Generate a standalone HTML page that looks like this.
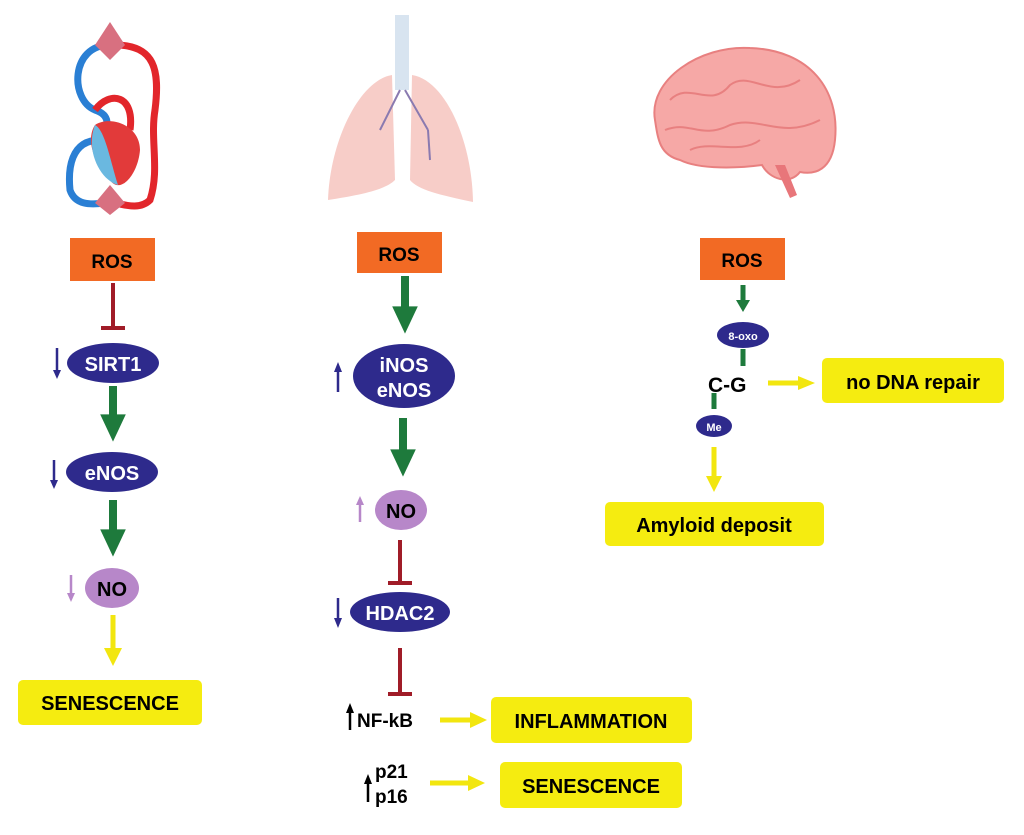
<!DOCTYPE html>
<html><head><meta charset="utf-8"><style>
body{margin:0;background:#fff;}
svg{display:block;font-family:"Liberation Sans",Arial,sans-serif;font-weight:bold;}
</style></head><body>
<svg width="1024" height="835" viewBox="0 0 1024 835" xmlns="http://www.w3.org/2000/svg">
<defs>
<marker id="g" markerWidth="4" markerHeight="4" refX="2" refY="2" orient="auto" markerUnits="strokeWidth"><path d="M0.3,0.4 L3.7,2 L0.3,3.6 z" fill="#1e7a3c"/></marker>
</defs>
<!-- heart -->
<g fill="none" stroke-width="7">
<path d="M110,45 C70,45 70,100 95,110 C110,115 110,125 100,140 C70,140 68,170 70,190 C75,205 90,205 105,203" stroke="#2a7fd4"/>
<path d="M115,45 C155,45 160,70 155,110 C150,140 160,170 150,200 C140,210 125,205 115,203" stroke="#e2262b"/>
<path d="M95,110 C110,90 135,95 130,130" stroke="#e2262b"/>
</g>
<path d="M95,45 L110,22 L125,45 L110,60 z" fill="#d87080"/>
<path d="M95,203 L110,185 L125,203 L110,215 z" fill="#d87080"/>
<path d="M95,125 C110,115 140,125 140,150 C138,175 120,195 110,180 C95,165 85,140 95,125z" fill="#e23a3a"/>
<path d="M95,125 C105,130 110,160 118,185 C100,180 85,150 95,125z" fill="#6ab8e0"/>
<!-- lungs -->
<rect x="395" y="15" width="14" height="75" fill="#d8e4f0"/>
<path d="M392,75 C360,80 330,140 328,200 C360,195 385,190 395,180 Z" fill="#f7cdc8"/>
<path d="M412,75 C445,80 472,140 473,202 C440,195 418,190 410,180 Z" fill="#f7cdc8"/>
<path d="M400,90 L380,130 M405,90 L428,130 M428,130 L430,160" stroke="#8a7ab0" stroke-width="2" fill="none"/>
<!-- brain -->
<path d="M655,120 C648,80 700,45 750,48 C810,50 840,90 835,140 C832,170 815,175 800,172 C790,185 770,180 762,165 C740,168 700,170 680,160 C660,155 658,140 655,120z" fill="#f6a8a6" stroke="#e88080" stroke-width="2"/>
<path d="M775,165 L790,198 L797,195 L785,165z" fill="#e8767a"/>
<g stroke="#e88080" stroke-width="2" fill="none"><path d="M670,100 C690,80 710,110 730,85 C750,70 770,100 800,80"/><path d="M665,130 C690,120 700,140 730,125 C760,115 780,140 820,120"/><path d="M690,150 C710,140 740,155 760,140"/></g>

<!-- column 1 -->
<rect x="70" y="238" width="85" height="43" fill="#f26a24"/>
<text x="112" y="268" font-size="19" text-anchor="middle">ROS</text>
<line x1="113" y1="283" x2="113" y2="327" stroke="#a01c28" stroke-width="4"/>
<line x1="101" y1="328" x2="125" y2="328" stroke="#a01c28" stroke-width="4"/>
<ellipse cx="113" cy="363" rx="46" ry="20" fill="#2e2a8c"/>
<text x="113" y="371" font-size="20" text-anchor="middle" fill="#fff">SIRT1</text>
<line x1="57" y1="348" x2="57" y2="372" stroke="#2e2a8c" stroke-width="2.5"/><path d="M53,370 L57,379 L61,370z" fill="#2e2a8c"/>
<line x1="113" y1="386" x2="113" y2="428" stroke="#1e7a3c" stroke-width="8" marker-end="url(#g)"/>
<ellipse cx="112" cy="472" rx="46" ry="20" fill="#2e2a8c"/>
<text x="112" y="480" font-size="20" text-anchor="middle" fill="#fff">eNOS</text>
<line x1="54" y1="460" x2="54" y2="482" stroke="#2e2a8c" stroke-width="2.5"/><path d="M50,480 L54,489 L58,480z" fill="#2e2a8c"/>
<line x1="113" y1="500" x2="113" y2="543" stroke="#1e7a3c" stroke-width="8" marker-end="url(#g)"/>
<ellipse cx="112" cy="588" rx="27" ry="20" fill="#b787c9"/>
<text x="112" y="596" font-size="20" text-anchor="middle">NO</text>
<line x1="71" y1="575" x2="71" y2="595" stroke="#b787c9" stroke-width="2.5"/><path d="M67,593 L71,602 L75,593z" fill="#b787c9"/>
<line x1="113" y1="615" x2="113" y2="650" stroke="#f2e60f" stroke-width="5"/><path d="M104,648 L113,666 L122,648z" fill="#f2e60f"/>
<rect x="18" y="680" width="184" height="45" rx="5" fill="#f5ec10"/>
<text x="110" y="710" font-size="20" text-anchor="middle">SENESCENCE</text>

<!-- column 2 -->
<rect x="357" y="232" width="85" height="41" fill="#f26a24"/>
<text x="399" y="261" font-size="19" text-anchor="middle">ROS</text>
<line x1="405" y1="276" x2="405" y2="320" stroke="#1e7a3c" stroke-width="8" marker-end="url(#g)"/>
<ellipse cx="404" cy="376" rx="51" ry="32" fill="#2e2a8c"/>
<text x="404" y="372" font-size="20" text-anchor="middle" fill="#fff">iNOS</text>
<text x="404" y="397" font-size="20" text-anchor="middle" fill="#fff">eNOS</text>
<line x1="338" y1="370" x2="338" y2="392" stroke="#2e2a8c" stroke-width="2.5"/><path d="M334,372 L338,362 L342,372z" fill="#2e2a8c"/>
<line x1="403" y1="418" x2="403" y2="463" stroke="#1e7a3c" stroke-width="8" marker-end="url(#g)"/>
<ellipse cx="401" cy="510" rx="26" ry="20" fill="#b787c9"/>
<text x="401" y="518" font-size="20" text-anchor="middle">NO</text>
<line x1="360" y1="503" x2="360" y2="522" stroke="#b787c9" stroke-width="2.5"/><path d="M356,505 L360,496 L364,505z" fill="#b787c9"/>
<line x1="400" y1="540" x2="400" y2="582" stroke="#a01c28" stroke-width="4"/>
<line x1="388" y1="583" x2="412" y2="583" stroke="#a01c28" stroke-width="4"/>
<ellipse cx="400" cy="612" rx="50" ry="20" fill="#2e2a8c"/>
<text x="400" y="620" font-size="20" text-anchor="middle" fill="#fff">HDAC2</text>
<line x1="338" y1="598" x2="338" y2="620" stroke="#2e2a8c" stroke-width="2.5"/><path d="M334,618 L338,628 L342,618z" fill="#2e2a8c"/>
<line x1="400" y1="648" x2="400" y2="693" stroke="#a01c28" stroke-width="4"/>
<line x1="388" y1="694" x2="412" y2="694" stroke="#a01c28" stroke-width="4"/>
<line x1="350" y1="711" x2="350" y2="730" stroke="#000" stroke-width="2.5"/><path d="M346,713 L350,703 L354,713z" fill="#000"/>
<text x="357" y="727" font-size="19">NF-kB</text>
<line x1="440" y1="720" x2="472" y2="720" stroke="#f2e60f" stroke-width="5"/><path d="M470,712 L487,720 L470,728z" fill="#f2e60f"/>
<rect x="491" y="697" width="201" height="46" rx="5" fill="#f5ec10"/>
<text x="591" y="728" font-size="20" text-anchor="middle">INFLAMMATION</text>
<line x1="368" y1="782" x2="368" y2="802" stroke="#000" stroke-width="2.5"/><path d="M364,784 L368,774 L372,784z" fill="#000"/>
<text x="375" y="778" font-size="19">p21</text>
<text x="375" y="803" font-size="19">p16</text>
<line x1="430" y1="783" x2="470" y2="783" stroke="#f2e60f" stroke-width="5"/><path d="M468,775 L485,783 L468,791z" fill="#f2e60f"/>
<rect x="500" y="762" width="182" height="46" rx="5" fill="#f5ec10"/>
<text x="591" y="793" font-size="20" text-anchor="middle">SENESCENCE</text>

<!-- column 3 -->
<rect x="700" y="238" width="85" height="42" fill="#f26a24"/>
<text x="742" y="267" font-size="19" text-anchor="middle">ROS</text>
<line x1="743" y1="285" x2="743" y2="301" stroke="#1e7a3c" stroke-width="5"/><path d="M736,300 L743,312 L750,300z" fill="#1e7a3c"/>
<ellipse cx="743" cy="335" rx="26" ry="13" fill="#2e2a8c"/>
<text x="743" y="340" font-size="11" text-anchor="middle" fill="#fff">8-oxo</text>
<line x1="743" y1="349" x2="743" y2="366" stroke="#1e7a3c" stroke-width="5"/>
<text x="708" y="392" font-size="21">C-G</text>
<line x1="714" y1="393" x2="714" y2="409" stroke="#1e7a3c" stroke-width="5"/>
<ellipse cx="714" cy="426" rx="18" ry="11" fill="#2e2a8c"/>
<text x="714" y="431" font-size="11" text-anchor="middle" fill="#fff">Me</text>
<line x1="714" y1="447" x2="714" y2="478" stroke="#f2e60f" stroke-width="5"/><path d="M706,476 L714,492 L722,476z" fill="#f2e60f"/>
<rect x="605" y="502" width="219" height="44" rx="5" fill="#f5ec10"/>
<text x="714" y="532" font-size="20" text-anchor="middle">Amyloid deposit</text>
<line x1="768" y1="383" x2="800" y2="383" stroke="#f2e60f" stroke-width="5"/><path d="M798,376 L815,383 L798,390z" fill="#f2e60f"/>
<rect x="822" y="358" width="182" height="45" rx="5" fill="#f5ec10"/>
<text x="913" y="389" font-size="20" text-anchor="middle">no DNA repair</text>
</svg>
</body></html>
